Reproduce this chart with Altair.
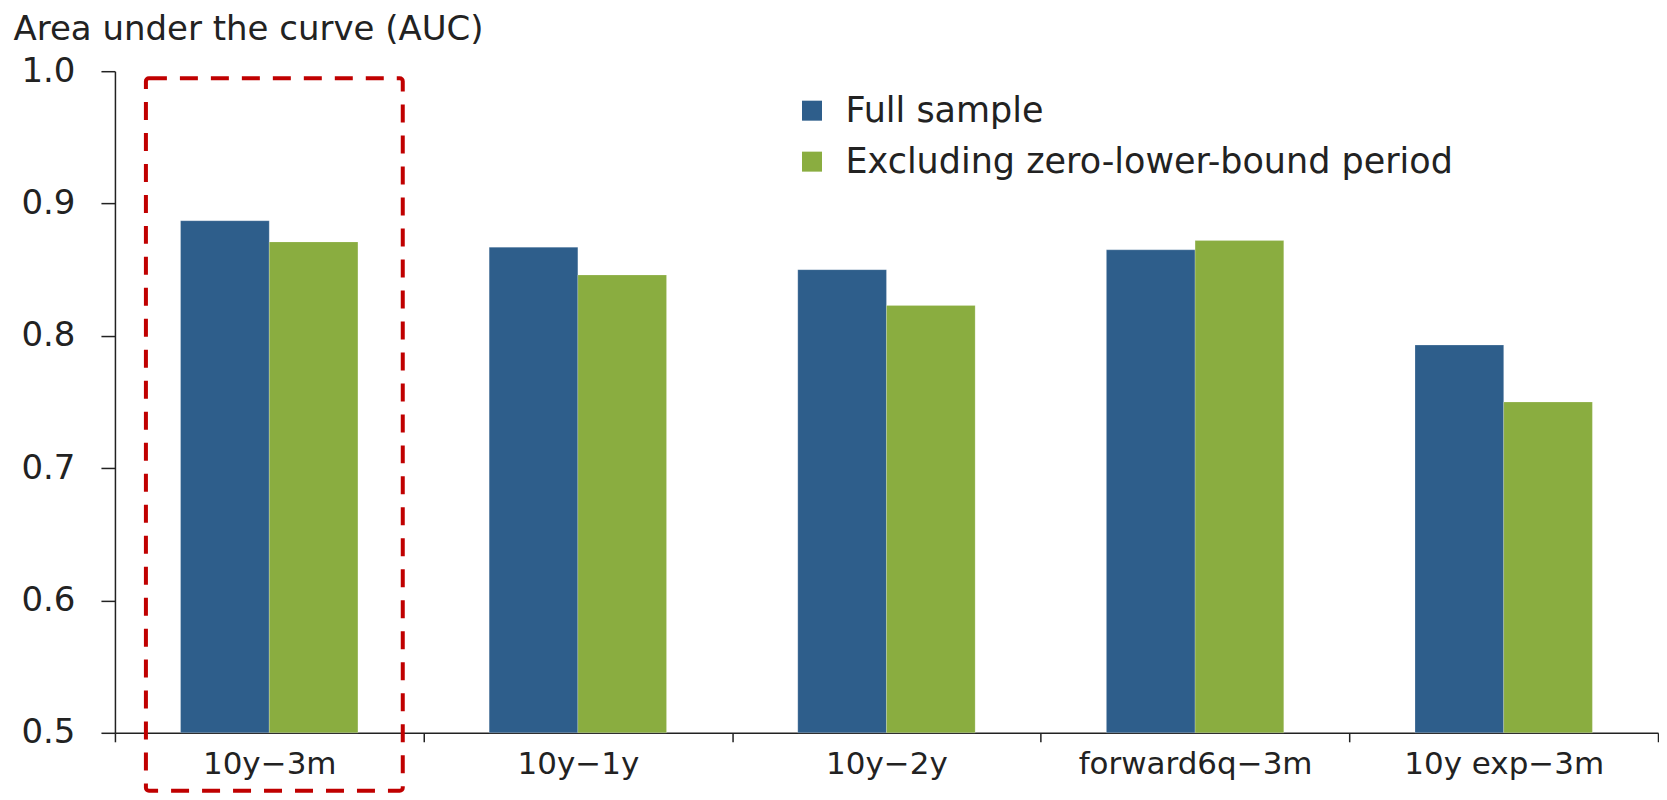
import altair as alt
import pandas as pd

categories = ["10y−3m", "10y−1y", "10y−2y", "forward6q−3m", "10y exp−3m"]
series_names = ["Full sample", "Excluding zero-lower-bound period"]
full_sample = [0.887, 0.867, 0.850, 0.865, 0.793]
excluding_zlb = [0.871, 0.846, 0.823, 0.872, 0.750]
y_ticks = [0.5, 0.6, 0.7, 0.8, 0.9, 1.0]
colors = ["#2E5E8B", "#8AAD40"]

rows = []
for c, a, b in zip(categories, full_sample, excluding_zlb):
    rows.append({"cat": c, "series": series_names[0], "value": a})
    rows.append({"cat": c, "series": series_names[1], "value": b})
df = pd.DataFrame(rows)

FONT = "DejaVu Sans"
W, H = 1544, 662

x_enc = alt.X(
    "cat:N",
    sort=categories,
    scale=alt.Scale(paddingInner=0, paddingOuter=0),
    axis=alt.Axis(
        title=None,
        tickBand="extent",
        tickSize=9,
        labelPadding=8,
        labelFontSize=31,
        labelFont=FONT,
        labelColor="#222222",
        labelAngle=0,
        labelLimit=0,
        domainColor="#222222",
        tickColor="#222222",
        domainWidth=1.5,
        tickWidth=1.5,
    ),
)

bars = alt.Chart(df).mark_bar(stroke="white", strokeWidth=0.5, strokeOpacity=0.4).encode(
    x=x_enc,
    xOffset=alt.XOffset("series:N", sort=series_names,
                        scale=alt.Scale(paddingInner=0, paddingOuter=0.74)),
    y=alt.Y(
        "value:Q",
        scale=alt.Scale(domain=[0.5, 1.0], zero=False, clamp=True, nice=False),
        axis=alt.Axis(
            values=y_ticks,
            format=".1f",
            title="Area under the curve (AUC)",
            titleAngle=0,
            titleAlign="left",
            titleBaseline="alphabetic",
            titleX=-102,
            titleY=-32,
            titleFont=FONT,
            titleFontSize=34,
            titleFontWeight="normal",
            titleColor="#222222",
            labelFont=FONT,
            labelFontSize=34,
            labelColor="#222222",
            labelPadding=26,
            tickSize=14,
            grid=False,
            domainColor="#222222",
            tickColor="#222222",
            domainWidth=1.5,
            tickWidth=1.5,
        ),
    ),
    color=alt.Color(
        "series:N",
        sort=series_names,
        scale=alt.Scale(domain=series_names, range=colors),
        legend=alt.Legend(
            title=None,
            orient="none",
            legendX=680,
            legendY=22,
            symbolType="square",
            symbolSize=400,
            symbolStrokeWidth=0,
            labelFont=FONT,
            labelFontSize=35,
            labelColor="#222222",
            labelOffset=16,
            rowPadding=15,
            labelLimit=0,
        ),
    ),
)

box = alt.Chart(pd.DataFrame({"cat": ["10y−3m"]})).mark_rect(
    fill=None,
    filled=False,
    stroke="#C00000",
    strokeWidth=4,
    strokeDash=[18, 13],
    cornerRadius=3,
).encode(
    x=alt.value(31),
    x2=alt.value(288),
    y=alt.value(7),
    y2=alt.value(720),
)

chart = (
    alt.layer(bars, box)
    .properties(width=W, height=H, background="white",
                padding={"left": 5, "top": 4, "right": 0, "bottom": 0})
    .configure_view(strokeWidth=0, stroke=None)
)

chart.save("out.html", embed_options={"renderer": "svg", "actions": False})
